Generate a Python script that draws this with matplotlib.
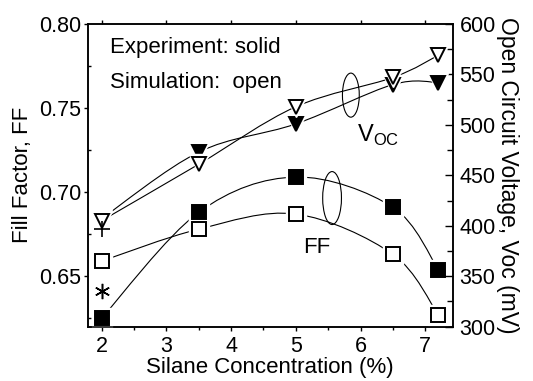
import matplotlib
matplotlib.use("Agg")
import matplotlib.pyplot as plt
import numpy as np
from matplotlib.path import Path
from matplotlib.patches import PathPatch, Ellipse
from matplotlib.ticker import MultipleLocator

plt.rcParams['font.family'] = ['Liberation Sans', 'DejaVu Sans']
plt.rcParams['mathtext.fontset'] = 'custom'
plt.rcParams['mathtext.rm'] = 'Liberation Sans'

# data
conc = [2, 3.5, 5, 6.5, 7.2]
ff_exp = [0.625, 0.688, 0.709, 0.691, 0.654]
ff_sim = [0.659, 0.678, 0.687, 0.663, 0.627]
voc_exp = [407, 473, 501, 540, 542]
voc_sim = [405, 461, 518, 547, 569]
extra_x = [2]
extra_plus = [0.678]
extra_star = [0.641]


def smooth_line(ax, x, y, **kw):
    """Draw a Catmull-Rom style bezier through the points."""
    pts = np.column_stack([x, y]).astype(float)
    n = len(pts)
    verts = [pts[0]]
    codes = [Path.MOVETO]
    for i in range(n - 1):
        p0 = pts[i - 1] if i > 0 else pts[i]
        p1 = pts[i]
        p2 = pts[i + 1]
        p3 = pts[i + 2] if i + 2 < n else pts[i + 1]
        verts += [p1 + (p2 - p0) / 6, p2 - (p3 - p1) / 6, p2]
        codes += [Path.CURVE4] * 3
    ax.add_patch(PathPatch(Path(verts, codes), fill=False, **kw))


def markers(ax, x, y, marker, ms, filled, z):
    # white halo so the line stops short of the marker
    ax.plot(x, y, ls='none', marker=marker, ms=ms + 5, mfc='white',
            mec='white', zorder=z)
    ax.plot(x, y, ls='none', marker=marker, ms=ms,
            mfc='black' if filled else 'white', mec='black', mew=1.4,
            zorder=z + 0.1)


fig = plt.figure(figsize=(5.33, 3.81), dpi=100)
ax = fig.add_axes([0.165, 0.1425, 0.684, 0.7945])
ax2 = ax.twinx()

line_kw = dict(color='black', lw=0.8, zorder=2)

# fill factor
smooth_line(ax, conc, ff_exp, **line_kw)
smooth_line(ax, conc, ff_sim, **line_kw)
markers(ax, conc, ff_exp, 's', 9.5, True, 3)
markers(ax, conc, ff_sim, 's', 9.5, False, 3)
ax.plot(extra_x, extra_star, ls='none', marker=(6, 2, 0), ms=11, mew=1.1,
        color='black', zorder=4)

# open circuit voltage
smooth_line(ax2, conc, voc_exp, **line_kw)
smooth_line(ax2, conc, voc_sim, **line_kw)
markers(ax2, conc, voc_exp, 'v', 10, True, 3)
markers(ax2, conc, voc_sim, 'v', 10, False, 5)
ax2.plot(extra_x, extra_plus, ls='none', marker='+', ms=11, mew=1.2,
         color='black', zorder=7, transform=ax.transData)

ax.set_xlim(1.79, 7.42)
ax.set_ylim(0.62, 0.80)
ax2.set_ylim(300, 600)

ax.xaxis.set_major_locator(MultipleLocator(1))
ax.xaxis.set_minor_locator(MultipleLocator(0.5))
ax.yaxis.set_major_locator(MultipleLocator(0.05))
ax.yaxis.set_minor_locator(MultipleLocator(0.025))
ax.yaxis.set_major_formatter(plt.FormatStrFormatter('%.2f'))
ax2.yaxis.set_major_locator(MultipleLocator(50))
ax2.yaxis.set_minor_locator(MultipleLocator(25))

ax.tick_params(axis='x', which='major', direction='out', length=3, width=1,
               labelsize=15.5, pad=4, top=True)
ax.tick_params(axis='x', which='minor', direction='out', length=2, width=1)
ax.tick_params(axis='y', which='major', direction='out', length=3, width=1,
               labelsize=15.5, pad=2)
ax.tick_params(axis='y', which='minor', direction='in', length=2, width=1)
ax2.tick_params(axis='y', which='major', direction='in', length=5.5, width=1,
                labelsize=15.5, pad=5)
ax2.tick_params(axis='y', which='minor', direction='in', length=4.3, width=1)
for a in (ax, ax2):
    for s in a.spines.values():
        s.set_linewidth(1.1)

ax.set_xlabel('Silane Concentration (%)', fontsize=16, labelpad=0)
ax.set_ylabel('Fill Factor, FF', fontsize=16, labelpad=4)
ax2.set_ylabel('Open Circuit Voltage, Voc (mV)', fontsize=16.5,
               rotation=270, labelpad=17)

# annotations
ax.text(0.06, 0.921, 'Experiment: solid', transform=ax.transAxes,
        fontsize=16, va='center')
ax.text(0.06, 0.808, 'Simulation:  open', transform=ax.transAxes,
        fontsize=16, va='center')
ax2.add_patch(Ellipse((5.85, 0.7577), 0.26, 0.0262, transform=ax.transData,
                      fill=False, lw=0.8, color='black', zorder=6))
ax2.add_patch(Ellipse((5.56, 0.6965), 0.29, 0.0315, transform=ax.transData,
                      fill=False, lw=0.8, color='black', zorder=6))
ax2.text(0.738, 0.673, r'V$_{\mathrm{OC}}$', transform=ax.transAxes,
         fontsize=17, va='top')
ax2.text(0.59, 0.263, 'FF', transform=ax.transAxes, fontsize=16,
         va='center')

fig.savefig('out.png', dpi=100)
